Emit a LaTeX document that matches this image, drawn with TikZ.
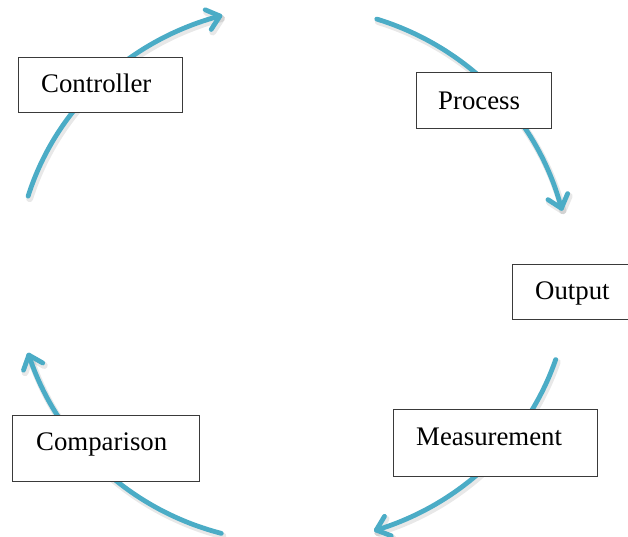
\documentclass[tikz,border=0pt]{standalone}
\usepackage{fontspec}
\setmainfont{Liberation Serif}
\usetikzlibrary{calc}
\definecolor{cyclearc}{HTML}{4BACC6}
\definecolor{boxline}{HTML}{3A3A3A}
\tikzset{
  flow/.style={draw=cyclearc, line width=4.8pt, line cap=round, line join=round},
  flowshadow/.style={draw=black, opacity=0.09, line width=7pt, line cap=round, line join=round},
  stagebox/.style={draw=boxline, fill=white, line width=1.2pt, rectangle,
    inner sep=0pt, anchor=north west},
  stagetext/.style={inner sep=0pt, anchor=base west,
    font=\fontsize{26.8}{32}\selectfont}
}
% arc #1 of the cycle ellipse: from angle #2 to angle #3, barb aimed back towards angle #4
\newcommand\cyclearc[5]{%
  \coordinate (#1-tip) at ({293+277*cos(#3)}, {274.5-268*sin(#3)});
  \coordinate (#1-back) at ({293+277*cos(#4)}, {274.5-268*sin(#4)});
  \coordinate (#1-wa) at ($(#1-tip)!16pt!40:(#1-back)$);
  \coordinate (#1-wb) at ($(#1-tip)!16pt!-40:(#1-back)$);
  \draw[#5] plot[domain=#2:#3, samples=50, smooth]
    ({293+277*cos(\x)}, {274.5-268*sin(\x)});
  \draw[#5] (#1-wa) -- (#1-tip) -- (#1-wb);}
\begin{document}
\begin{tikzpicture}[x=1pt, y=-1pt]
  \useasboundingbox (0,0) rectangle (628,537);

  % soft shadows under the arcs
  \begin{scope}[shift={(1.5,2.5)}]
    \cyclearc{sa}{163}{105.3}{110}{flowshadow}
    \cyclearc{sb}{72.4}{14.3}{19}{flowshadow}
    \cyclearc{sc}{-18.5}{-72.5}{-67.8}{flowshadow}
    \cyclearc{sd}{-105}{-162.5}{-157.8}{flowshadow}
  \end{scope}

  % the four arcs, running clockwise
  \cyclearc{ca}{163}{105.3}{110}{flow}
  \cyclearc{cb}{72.4}{14.3}{19}{flow}
  \cyclearc{cc}{-18.5}{-72.5}{-67.8}{flow}
  \cyclearc{cd}{-105}{-162.5}{-157.8}{flow}

  % stage boxes
  \node[stagebox, minimum width=164pt, minimum height=55pt] (controller) at (18,57) {};
  \node[stagebox, minimum width=135pt, minimum height=56pt] (process) at (416,72) {};
  \node[stagebox, minimum width=130pt, minimum height=55pt] (output) at (512,264) {};
  \node[stagebox, minimum width=204pt, minimum height=67pt] (measurement) at (393,409) {};
  \node[stagebox, minimum width=187pt, minimum height=66pt] (comparison) at (12,415) {};

  % stage labels
  \node[stagetext] (controller-t) at (41,92.7) {Controller};
  \node[stagetext] (process-t) at (438,109.3) {Process};
  \node[stagetext] (output-t) at (535,299) {Output};
  \node[stagetext] (measurement-t) at (416,445) {Measurement};
  \node[stagetext] (comparison-t) at (36,450) {Comparison};
\end{tikzpicture}
\end{document}
